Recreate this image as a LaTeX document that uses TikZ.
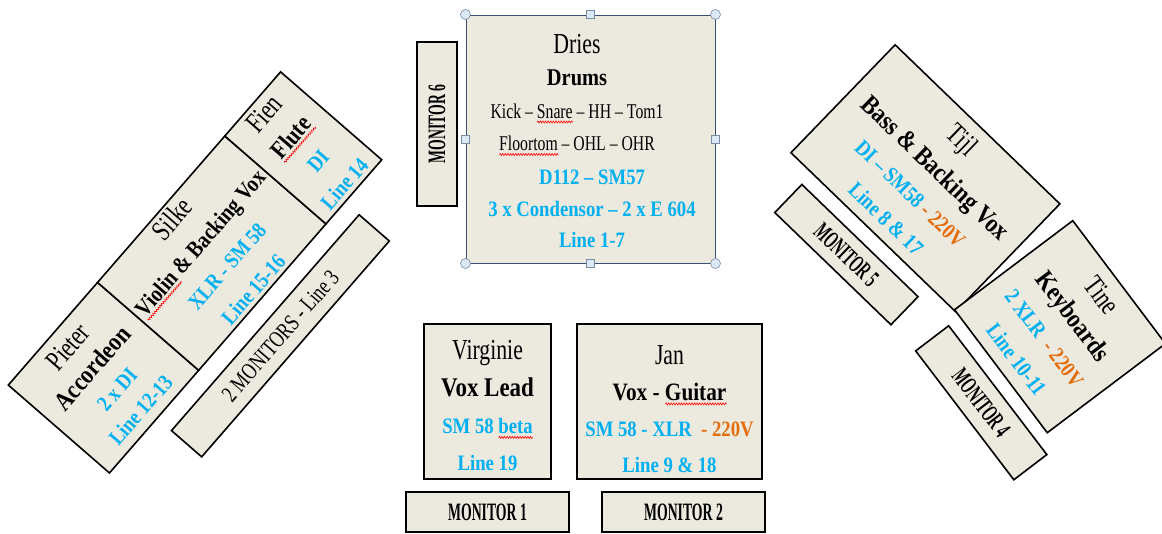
\documentclass[tikz,border=0pt]{standalone}
\usepackage{fontspec}
\setmainfont{Liberation Serif}[UprightFeatures={FakeStretch=0.75},BoldFeatures={FakeStretch=0.85}]
\newfontfamily\monfont{Liberation Serif}[FakeStretch=0.55]
\usetikzlibrary{positioning,decorations.pathmorphing}

\definecolor{stagefill}{RGB}{236,233,223}
\definecolor{micblue}{RGB}{0,176,240}
\definecolor{pwrorange}{RGB}{228,108,10}
\definecolor{selline}{RGB}{56,80,115}
\definecolor{handlefill}{RGB}{218,233,245}
\definecolor{handleline}{RGB}{120,140,165}

\newsavebox\spellbox
\newcommand\who[1]{{\fontsize{29}{29}\selectfont #1}}
\newcommand\inst[2][25]{{\bfseries\fontsize{#1}{#1}\selectfont #2}}
\newcommand\mic[1]{{\bfseries\color{micblue}#1}}
\newcommand\pwr[1]{{\bfseries\color{pwrorange}#1}}
% red wavy line under a word
\newcommand\spell[2][black]{{\sbox\spellbox{\color{#1}#2}%
  \rlap{\tikz[baseline=0pt, x=1pt, y=1pt]{\draw[red, line width=0.6pt, decorate,
    decoration={zigzag, segment length=2.6pt, amplitude=1pt}] (0,-3.5) -- (\the\wd\spellbox,-3.5);}}%
  \usebox\spellbox}}

\begin{document}
\begin{tikzpicture}[x=1pt,y=-1pt,
    box/.style={draw, line width=1.6pt, fill=stagefill, align=center, inner sep=0pt, outer sep=0pt, font=\fontsize{22}{35}\selectfont},
    monbox/.style={draw, line width=1.6pt, fill=stagefill, inner sep=0pt, outer sep=0pt, font=\monfont\bfseries\fontsize{25}{25}\selectfont},
    handle/.style={draw=handleline, fill=handlefill, line width=0.6pt, inner sep=0pt}]
  \useasboundingbox (0,0) rectangle (1162,533);

  % drums in the middle
  \node (drums) [draw=selline, line width=1pt, fill=stagefill, minimum width=249, minimum height=248] at (590.5,139) {};
  \node (drumkit) [align=center, font=\fontsize{21}{32.5}\selectfont] at (577,95) {\who{Dries}\\ \inst[24]{Drums}\\ Kick – \spell{Snare} – HH – Tom1\\ \spell{Floortom} – OHL – OHR};
  \node (drummics) [align=center, font=\bfseries\fontsize{22}{31.5}\selectfont, text=micblue] at (592,209) {D112 – SM57\\ 3 x Condensor – 2 x E 604\\ Line 1-7};
  \foreach \p in {north west, north east, south west, south east}
    \node (h-\p) [handle, circle, minimum size=10] at (drums.\p) {};
  \foreach \p in {north, south, west, east}
    \node (h-\p) [handle, minimum size=8] at (drums.\p) {};
  \node (mon6) [monbox, rotate=90, minimum width=164, minimum height=40] at (437,124) {MONITOR 6};

  % front
  \node (virginie) [box, minimum width=127, minimum height=155, font=\fontsize{22}{37}\selectfont] at (487.5,401.5) {\rule{0pt}{28pt}\who{Virginie}\\ \inst[27]{Vox Lead}\\ \mic{SM 58 \spell[micblue]{beta}}\\ \mic{Line 19}};
  \node (jan) [box, minimum width=185, minimum height=155, font=\fontsize{22}{36}\selectfont] at (669.5,401.5) {\rule{0pt}{34pt}\who{Jan}\\ \inst{Vox - \spell{Guitar}}\\ \mic{SM 58 - XLR}\pwr{\ \ - 220V}\\ \mic{Line 9 \& 18}};
  \node (mon1) [monbox, minimum width=163, minimum height=40, below=13pt of virginie] {MONITOR 1};
  \node (mon2) [monbox, minimum width=163, minimum height=40] at (683.5,512) {MONITOR 2};

  % left side
  \node (pieter) [box, rotate=49, minimum width=136, minimum height=134, font=\fontsize{22}{31.5}\selectfont] at (103.5,377.7) {\who{Pieter}\\ \inst[26]{Accordeon}\\ \mic{2 x DI}\\ \mic{Line 12-13}};
  \node (silke) [box, rotate=49, minimum width=194, minimum height=134, right=0pt of pieter] {\who{Silke}\\ \inst[23.5]{\spell{Violin} \& Backing Vox}\\ \mic{XLR - SM 58}\\ \mic{Line 15-16}};
  \node (fien) [box, rotate=49, minimum width=85, minimum height=134, right=0pt of silke] {\who{Fien}\\ \inst{\spell{Flute}}\\ \mic{DI}\\ \mic{Line 14}};
  \node (mon3) [monbox, rotate=49, minimum width=286, minimum height=40, font=\mdseries\fontsize{23.5}{23.5}\selectfont] at (280.4,335.8) {2 MONITORS - Line 3};

  % right side
  \node (tijl) [box, rotate=-44, minimum width=229, minimum height=150] at (925.4,178.3) {\who{Tijl}\\[3pt] \inst[26.5]{Bass \& Backing Vox}\\ \mic{DI – SM58}\pwr{\ - 220V}\\ \mic{Line 8 \& 17}};
  \node (tine) [box, rotate=-53, minimum width=154, minimum height=148] at (1060,326.7) {\who{Tine}\\ \inst[26.5]{Keyboards}\\ \mic{2 XLR}\pwr{\ \ - 220V}\\ \mic{Line 10-11}};
  \node (mon5) [monbox, rotate=-44, minimum width=161.5, minimum height=39] at (846.4,254.6) {MONITOR 5};
  \node (mon4) [monbox, rotate=-52.7, minimum width=162, minimum height=41.5] at (981.25,402.75) {MONITOR 4};
\end{tikzpicture}
\end{document}
